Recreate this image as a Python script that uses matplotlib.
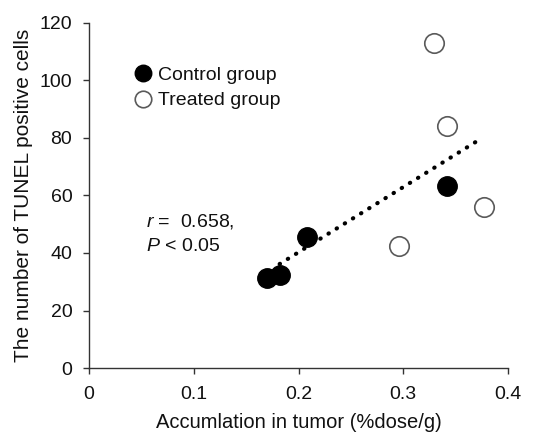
import numpy as np
import matplotlib
matplotlib.use("Agg")
import matplotlib.pyplot as plt

plt.rcParams['font.family'] = ['Liberation Sans', 'DejaVu Sans']
plt.rcParams['mathtext.fontset'] = 'custom'
plt.rcParams['mathtext.rm'] = 'Liberation Sans'
plt.rcParams['mathtext.it'] = 'Liberation Sans:italic'

control_x = [0.170, 0.182, 0.208, 0.342]
control_y = [31.4, 32.3, 45.4, 63.3]
treated_x = [0.329, 0.342, 0.296, 0.377]
treated_y = [113.0, 84.2, 42.5, 56.1]
x_ticks = [0, 0.1, 0.2, 0.3, 0.4]
x_tick_labels = ["0", "0.1", "0.2", "0.3", "0.4"]
y_ticks = [0, 20, 40, 60, 80, 100, 120]
fit_range = [0.182, 0.373]

fig = plt.figure(figsize=(5.35, 4.32), dpi=100)
ax = fig.add_axes([0.1664, 0.148, 0.9495 - 0.1664, 0.9475 - 0.148])

all_x = np.array(control_x + treated_x)
all_y = np.array(control_y + treated_y)
slope, intercept = np.polyfit(all_x, all_y, 1)
fx = np.array(fit_range)
ax.plot(fx, slope * fx + intercept, color='black', linestyle=(0, (0.1, 2.2)),
        linewidth=3.0, dash_capstyle='round', zorder=2)

ax.plot(control_x, control_y, 'o', color='black', markersize=14,
        markeredgecolor='black', label='Control group', zorder=3)
ax.plot(treated_x, treated_y, 'o', markerfacecolor='white', markersize=14,
        markeredgecolor='#5a5a5a', markeredgewidth=1.2, label='Treated group', zorder=3)

ax.set_xlim(0, 0.4)
ax.set_ylim(0, 120)
ax.set_xticks(x_ticks)
ax.set_xticklabels(x_tick_labels)
ax.set_yticks(y_ticks)
for s in ['top', 'right']:
    ax.spines[s].set_visible(False)
for s in ['left', 'bottom']:
    ax.spines[s].set_color('#333333')
    ax.spines[s].set_linewidth(1.0)
ax.tick_params(direction='out', length=4, width=1, color='#333333',
               labelsize=14, labelcolor='#111111')
ax.tick_params(axis='x', pad=8.6)
ax.tick_params(axis='y', pad=8)

ax.set_xlabel('Accumlation in tumor (%dose/g)', fontsize=14.5, labelpad=7.5,
              color='#111111')
ax.set_ylabel('The number of TUNEL positive cells', fontsize=15, labelpad=4.5,
              color='#111111')

leg = ax.legend(loc='upper left', bbox_to_anchor=(0.087, 0.896), frameon=False,
                fontsize=14, handletextpad=0.25, handlelength=1.0,
                labelspacing=0.4, markerscale=0.85, borderaxespad=0)
for t in leg.get_texts():
    t.set_color('#111111')

ax.text(0.136, 0.411, r'$\mathit{r}$ =  0.658,', transform=ax.transAxes,
        fontsize=14, va='baseline', color='#111111')
ax.text(0.136, 0.339, r'$\mathit{P}$ < 0.05', transform=ax.transAxes,
        fontsize=14, va='baseline', color='#111111')

fig.savefig('out.png', dpi=100)
